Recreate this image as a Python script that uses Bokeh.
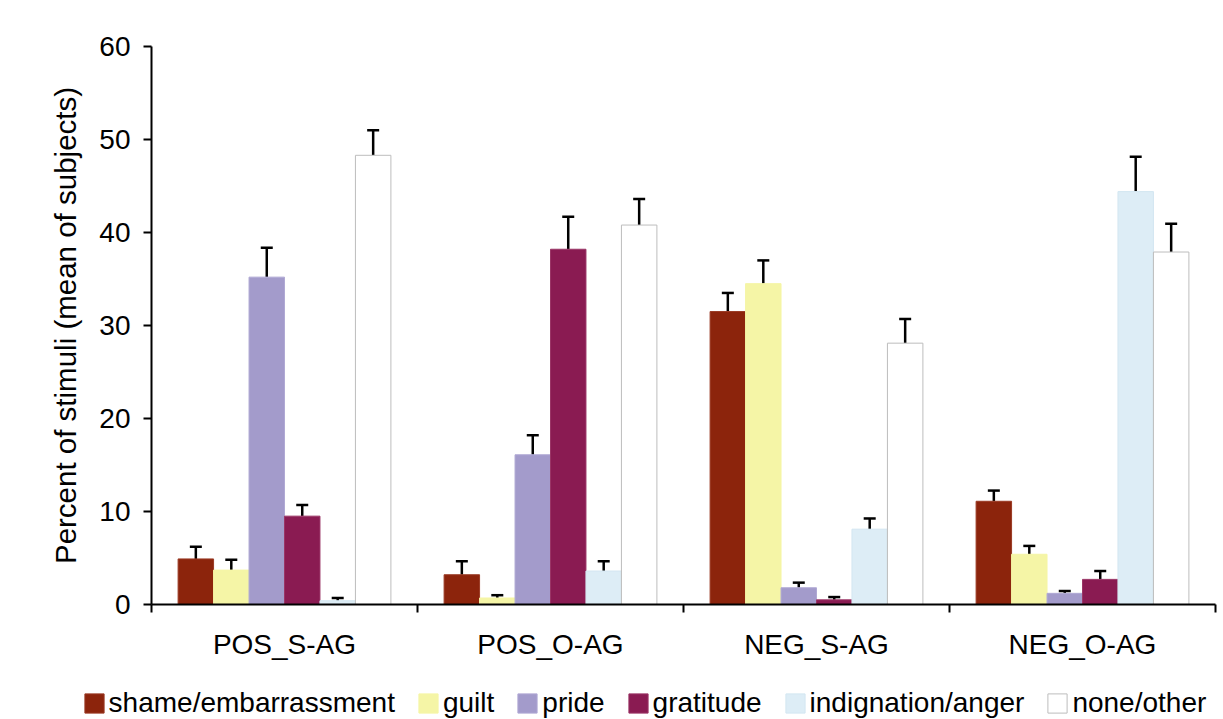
from bokeh.plotting import figure
from bokeh.models import (ColumnDataSource, Range1d, FixedTicker, Whisker, TeeHead,
                          Legend, LegendItem)
from bokeh.embed import file_html
from bokeh.resources import INLINE

groups = ["POS_S-AG", "POS_O-AG", "NEG_S-AG", "NEG_O-AG"]
emotions = ["shame/embarrassment", "guilt", "pride", "gratitude",
            "indignation/anger", "none/other"]

shame_vals = [4.9, 3.2, 31.5, 11.1]
guilt_vals = [3.7, 0.7, 34.5, 5.4]
pride_vals = [35.2, 16.1, 1.8, 1.2]
gratitude_vals = [9.5, 38.2, 0.5, 2.7]
indignation_vals = [0.4, 3.6, 8.1, 44.4]
none_vals = [48.3, 40.8, 28.1, 37.9]

shame_err = [1.3, 1.45, 2.0, 1.15]
guilt_err = [1.1, 0.3, 2.5, 0.9]
pride_err = [3.15, 2.1, 0.55, 0.25]
gratitude_err = [1.2, 3.5, 0.3, 0.9]
indignation_err = [0.3, 1.05, 1.15, 3.75]
none_err = [2.7, 2.8, 2.6, 3.05]

y_ticks = [0, 10, 20, 30, 40, 50, 60]
y_max = 60

values = [shame_vals, guilt_vals, pride_vals, gratitude_vals, indignation_vals, none_vals]
errors = [shame_err, guilt_err, pride_err, gratitude_err, indignation_err, none_err]
fills = ["#8C240C", "#F5F5A6", "#A39BCB", "#8A1B52", "#DDEDF6", "#FFFFFF"]
lines = ["#9A3A24", "#F5F5A6", "#B0A9D4", "#9A3566", "#D3E6F1", "#BDBDBD"]

FONT = "Liberation Sans"

# layout (pixels): the whole canvas is the frame; axes are pinned at data 0
W, H = 1223, 719
X0_PX, X1_PX = 151, 1215      # where x = 0 and x = len(groups) sit
Y0_PX, YMAX_PX = 604, 46      # where y = 0 and y = y_max sit
ng = len(groups)
ppx = (X1_PX - X0_PX) / ng
ppy = (Y0_PX - YMAX_PX) / y_max
x_rng = Range1d(-X0_PX / ppx, ng + (W - X1_PX) / ppx)
y_rng = Range1d(-(H - Y0_PX) / ppy, y_max + YMAX_PX / ppy)

p = figure(width=W, height=H, output_backend="svg", toolbar_location=None,
           x_range=x_rng, y_range=y_rng, min_border=0)
p.outline_line_color = None
p.grid.visible = False
p.background_fill_color = "white"
p.border_fill_color = "white"

n = len(emotions)
bw = 0.8 / n
items = []
for j in range(n):
    xs = [i + 0.1 + (j + 0.5) * bw for i in range(ng)]
    src = ColumnDataSource(dict(x=xs, top=values[j],
                                upper=[v + e for v, e in zip(values[j], errors[j])]))
    r = p.vbar(x="x", top="top", width=bw, bottom=0, source=src,
               fill_color=fills[j], line_color=lines[j], line_width=1)
    items.append(LegendItem(label=emotions[j], renderers=[r]))
    wk = Whisker(source=src, base="x", lower="top", upper="upper", dimension="height",
                 line_color="black", line_width=2.5, lower_head=None,
                 upper_head=TeeHead(size=12, line_color="black", line_width=2.5))
    p.add_layout(wk)

# x axis
xa = p.xaxis[0]
xa.fixed_location = 0
xa.bounds = (0, ng)
xa.ticker = FixedTicker(ticks=[i + 0.5 for i in range(ng)],
                        minor_ticks=list(range(ng + 1)))
xa.major_label_overrides = {i + 0.5: g for i, g in enumerate(groups)}
xa.major_tick_line_color = None
xa.major_tick_out = 0
xa.major_tick_in = 0
xa.minor_tick_out = 8
xa.minor_tick_in = 0
xa.minor_tick_line_color = "black"
xa.minor_tick_line_width = 2
xa.axis_line_width = 2
xa.axis_line_color = "black"
xa.major_label_text_font = FONT
xa.major_label_text_font_size = "28px"
xa.major_label_text_color = "black"
xa.major_label_standoff = 16

# y axis
ya = p.yaxis[0]
ya.fixed_location = 0
ya.bounds = (0, y_max)
ya.ticker = FixedTicker(ticks=y_ticks)
ya.minor_tick_line_color = None
ya.major_tick_out = 8
ya.major_tick_in = 0
ya.major_tick_line_width = 2
ya.major_tick_line_color = "black"
ya.axis_line_width = 2
ya.axis_line_color = "black"
ya.major_label_text_font = FONT
ya.major_label_text_font_size = "28px"
ya.major_label_text_color = "black"
ya.major_label_standoff = 13
ya.axis_label = "Percent of stimuli (mean of subjects)"
ya.axis_label_text_font = FONT
ya.axis_label_text_font_size = "29.5px"
ya.axis_label_text_font_style = "normal"
ya.axis_label_text_color = "black"
ya.axis_label_standoff = 14

legend = Legend(items=items, orientation="horizontal", location=(81.6, 0),
                glyph_width=24, glyph_height=24, label_standoff=3, spacing=21,
                padding=0, margin=0, border_line_color=None,
                background_fill_alpha=0, label_text_font=FONT,
                label_text_font_size="28px", label_text_color="black")
p.add_layout(legend, "center")

open("out.html", "w").write(file_html(p, INLINE))
